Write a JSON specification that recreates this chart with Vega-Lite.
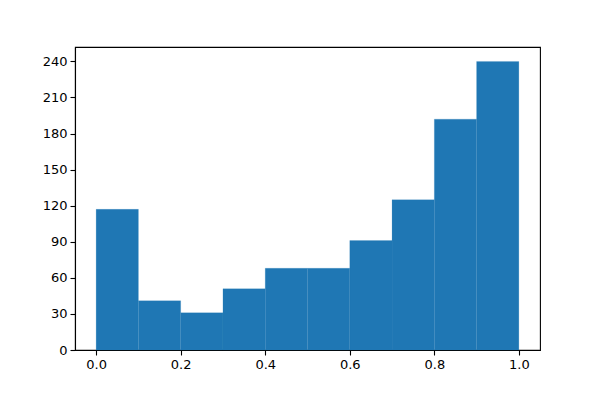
{
  "$schema": "https://vega.github.io/schema/vega-lite/v6.json",
  "width": 465,
  "height": 303,
  "autosize": {"type": "none"},
  "padding": {"left": 75, "top": 47, "right": 60, "bottom": 50},
  "background": "white",
  "config": {
    "view": {"stroke": "black", "strokeWidth": 1.1},
    "axis": {
      "grid": false,
      "domainColor": "black",
      "domainWidth": 1.1,
      "tickColor": "black",
      "tickWidth": 1.1,
      "tickSize": 5,
      "labelColor": "black",
      "labelFont": "DejaVu Sans",
      "labelFontSize": 13,
      "labelPadding": 3,
      "title": null
    }
  },
  "data": {
    "values": [
      {"bin_start": 0.0, "bin_end": 0.1, "count": 117},
      {"bin_start": 0.1, "bin_end": 0.2, "count": 41},
      {"bin_start": 0.2, "bin_end": 0.3, "count": 31},
      {"bin_start": 0.3, "bin_end": 0.4, "count": 51},
      {"bin_start": 0.4, "bin_end": 0.5, "count": 68},
      {"bin_start": 0.5, "bin_end": 0.6, "count": 68},
      {"bin_start": 0.6, "bin_end": 0.7, "count": 91},
      {"bin_start": 0.7, "bin_end": 0.8, "count": 125},
      {"bin_start": 0.8, "bin_end": 0.9, "count": 192},
      {"bin_start": 0.9, "bin_end": 1.0, "count": 240}
    ]
  },
  "mark": {"type": "rect", "color": "#1f77b4", "stroke": "#2a7ab6", "strokeWidth": 0.3, "strokeOpacity": 0.6},
  "encoding": {
    "x": {
      "field": "bin_start",
      "type": "quantitative",
      "scale": {"domain": [-0.05, 1.05], "nice": false, "zero": false},
      "axis": {"values": [0, 0.2, 0.4, 0.6, 0.8, 1.0], "format": ".1f", "labelFlush": false}
    },
    "x2": {"field": "bin_end"},
    "y": {
      "field": "count",
      "type": "quantitative",
      "scale": {"domain": [0, 252], "nice": false, "padding": 0},
      "axis": {"values": [0, 30, 60, 90, 120, 150, 180, 210, 240], "labelFlush": false}
    },
    "y2": {"datum": 0}
  }
}
